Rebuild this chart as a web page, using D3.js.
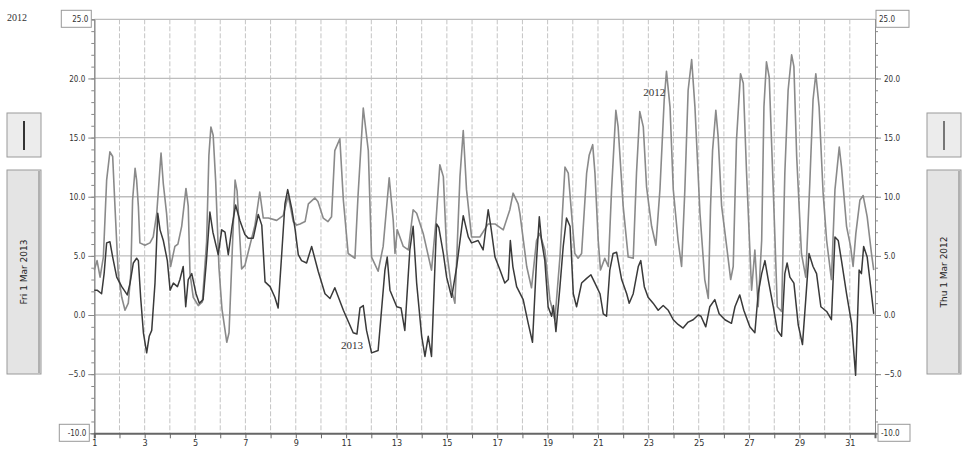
<!DOCTYPE html>
<html>
<head>
<meta charset="utf-8">
<script src="https://cdn.jsdelivr.net/npm/d3@7"></script>
<style>
  body { margin: 0; background: #fff; }
  svg { display: block; }
  .tick text { font-family: "DejaVu Sans Condensed", "Liberation Sans Narrow", sans-serif; fill: #333; }
</style>
</head>
<body>
<div id="chart"></div>
<script>
// March temperatures, day of month (fractional) and value
var days2012 = [1.00,1.11,1.23,1.36,1.49,1.62,1.73,1.82,1.95,2.09,2.22,2.35,2.45,2.52,2.62,2.68,2.75,2.81,3.01,3.21,3.34,3.48,3.65,3.74,3.87,4.03,4.20,4.32,4.47,4.64,4.73,4.80,4.93,5.13,5.29,5.46,5.55,5.63,5.72,5.82,5.95,6.07,6.26,6.35,6.47,6.59,6.67,6.85,6.98,7.18,7.38,7.57,7.71,7.91,8.24,8.50,8.70,8.90,9.04,9.17,9.37,9.50,9.76,9.88,10.09,10.28,10.42,10.55,10.75,10.89,11.08,11.35,11.47,11.68,11.88,12.01,12.27,12.47,12.71,12.87,12.94,13.03,13.27,13.47,13.66,13.80,14.06,14.39,14.57,14.72,14.86,14.99,15.19,15.32,15.52,15.65,15.78,15.98,16.31,16.64,16.91,17.24,17.50,17.63,17.83,17.90,18.17,18.36,18.56,18.69,18.89,19.09,19.29,19.49,19.69,19.82,19.95,20.08,20.21,20.35,20.55,20.65,20.79,20.88,21.01,21.10,21.27,21.41,21.54,21.71,21.80,22.00,22.20,22.40,22.53,22.66,22.80,22.93,23.13,23.30,23.46,23.63,23.72,23.86,23.99,24.18,24.32,24.45,24.58,24.72,24.85,25.05,25.24,25.38,25.47,25.55,25.68,25.77,25.91,26.11,26.27,26.37,26.50,26.66,26.77,26.90,27.10,27.23,27.36,27.50,27.59,27.69,27.80,27.96,28.12,28.29,28.42,28.55,28.69,28.78,28.89,29.08,29.25,29.41,29.54,29.65,29.78,29.94,30.08,30.27,30.41,30.58,30.67,30.87,31.03,31.13,31.24,31.40,31.53,31.69,31.86,31.95];
var temps2012 = [3.8,4.6,3.2,4.9,11.4,13.8,13.4,9.2,3.5,1.5,0.4,1.0,3.5,9.7,12.4,11.4,9.2,6.1,5.9,6.1,6.6,8.6,13.7,11.1,8.6,4.1,5.8,6.0,7.5,10.7,9.2,3.5,1.5,0.8,1.1,6.2,13.5,15.9,15.2,11.3,4.0,0.5,-2.3,-1.5,5.0,11.4,10.5,3.9,4.2,5.9,7.6,10.4,8.2,8.2,8.0,8.4,10.1,7.9,7.6,7.7,7.9,9.4,9.9,9.6,8.2,7.9,8.3,13.9,14.9,9.7,5.2,4.8,10.0,17.5,13.9,4.9,3.7,5.8,11.6,8.0,5.2,7.2,5.8,5.5,8.9,8.6,6.9,3.8,8.0,12.7,11.7,5.5,2.1,1.0,11.7,15.6,10.6,6.6,6.6,7.7,7.7,7.2,8.9,10.3,9.4,8.6,4.1,2.3,6.3,6.9,5.5,1.3,-0.4,4.9,12.5,12.0,8.6,5.2,4.8,5.2,12.0,13.5,14.4,12.0,6.3,3.8,4.8,4.1,10.6,17.3,15.9,9.2,4.9,4.8,12.0,17.2,15.9,10.8,7.5,5.9,10.6,18.2,20.6,17.6,10.6,6.3,4.1,10.6,19.0,21.6,17.6,8.6,3.0,1.4,9.2,13.9,17.3,15.1,9.2,5.8,3.0,4.1,14.8,20.4,19.6,12.0,2.1,5.5,0.7,6.3,17.6,21.4,20.1,10.6,0.7,0.3,12.0,19.0,22.0,21.0,13.4,5.2,3.2,11.1,18.2,20.4,17.6,10.3,6.3,3.0,10.6,14.2,12.5,7.5,5.8,4.1,6.9,9.7,10.1,8.3,5.2,3.8];

var days2013 = [1.00,1.11,1.29,1.39,1.49,1.62,1.73,1.89,2.09,2.31,2.42,2.55,2.68,2.75,2.84,2.95,3.08,3.18,3.28,3.41,3.52,3.61,3.74,3.90,4.01,4.14,4.30,4.40,4.53,4.63,4.73,4.87,5.04,5.17,5.32,5.45,5.59,5.71,5.92,6.06,6.19,6.32,6.47,6.61,6.78,6.98,7.11,7.31,7.51,7.65,7.78,7.98,8.17,8.30,8.44,8.57,8.68,8.84,8.97,9.10,9.23,9.43,9.63,9.89,10.16,10.36,10.55,10.89,11.28,11.43,11.55,11.68,11.81,12.01,12.27,12.54,12.63,12.74,13.01,13.18,13.33,13.47,13.53,13.66,13.80,14.00,14.13,14.26,14.39,14.59,14.68,14.86,14.99,15.19,15.39,15.65,15.85,15.98,16.24,16.44,16.64,16.75,16.91,17.11,17.30,17.44,17.52,17.62,17.77,18.03,18.23,18.40,18.56,18.67,18.76,18.89,19.02,19.16,19.23,19.33,19.49,19.62,19.75,19.89,20.02,20.15,20.35,20.55,20.72,20.88,21.08,21.21,21.34,21.47,21.60,21.74,21.94,22.14,22.24,22.40,22.60,22.70,22.84,22.99,23.19,23.39,23.59,23.79,23.99,24.18,24.38,24.58,24.78,24.98,25.09,25.28,25.44,25.64,25.81,26.04,26.30,26.44,26.63,26.79,27.03,27.23,27.36,27.50,27.63,27.76,27.96,28.12,28.29,28.42,28.51,28.62,28.78,28.95,29.12,29.25,29.38,29.54,29.68,29.85,30.08,30.27,30.41,30.54,30.67,30.87,31.07,31.23,31.37,31.46,31.55,31.69,31.86,31.95];
var temps2013 = [2.1,2.1,1.8,3.5,6.1,6.2,4.9,3.2,2.4,1.7,2.7,4.4,4.8,4.6,1.5,-1.5,-3.2,-1.8,-1.3,2.7,8.6,7.2,6.3,4.6,2.1,2.7,2.4,3.0,4.1,0.7,3.0,3.5,1.8,1.0,1.3,4.5,8.7,7.0,5.1,7.2,7.0,5.1,7.5,9.3,8.0,6.8,6.5,6.5,8.5,7.6,2.8,2.4,1.5,0.6,5.1,9.4,10.6,9.0,7.3,5.1,4.6,4.4,5.8,3.7,1.8,1.4,2.3,0.4,-1.5,-1.6,0.6,0.8,-1.3,-3.2,-3.0,3.8,4.9,2.1,0.7,0.6,-1.3,3.5,5.5,7.5,2.7,-1.8,-3.5,-1.8,-3.5,7.7,7.4,5.2,3.2,1.5,4.1,8.4,6.6,6.1,6.3,5.5,8.9,7.4,4.9,3.8,2.7,3.0,6.3,4.1,2.4,1.3,-0.7,-2.3,4.6,8.3,6.3,4.6,0.7,-0.1,0.8,-1.4,2.4,5.8,8.2,7.5,1.8,0.7,2.7,3.1,3.4,2.7,1.8,0.1,-0.1,3.8,5.2,5.3,3.0,1.8,1.0,1.8,4.1,4.6,2.4,1.5,1.0,0.4,0.8,0.4,-0.4,-0.8,-1.1,-0.6,-0.4,0.0,-0.1,-1.0,0.7,1.3,0.1,-0.4,-0.7,0.7,1.7,0.4,-1.0,-1.5,1.8,3.5,4.6,3.0,0.7,-1.3,-1.8,3.5,4.4,3.2,2.7,-0.8,-2.5,1.3,5.2,4.1,3.5,0.7,0.3,-0.4,6.6,6.3,4.6,1.8,-0.7,-5.1,3.8,3.5,5.8,4.9,1.8,0.1];

var yMajor = [-5, 0, 5, 10, 15, 20];
var xTicks = d3.range(1, 32);
var leftDate = "Fri 1 Mar 2013";
var rightDate = "Thu 1 Mar 2012";

var width = 964, height = 452;
var svg = d3.select("#chart").append("svg")
    .attr("width", width)
    .attr("height", height);

var x = d3.scaleLinear().domain([1, 32]).range([94.3, 875]);
var y = d3.scaleLinear().domain([-10, 25]).range([433.3, 19.3]);

// vertical day grid
svg.append("g").selectAll("line")
    .data(d3.range(2, 32))
    .enter().append("line")
    .attr("x1", function(d) { return x(d); })
    .attr("x2", function(d) { return x(d); })
    .attr("y1", y(25))
    .attr("y2", y(-10))
    .style("stroke", "#c4c4c4")
    .style("stroke-width", 1)
    .style("stroke-dasharray", "5,2");

// horizontal grid every 5
svg.append("g").selectAll("line")
    .data(d3.range(-5, 26, 5))
    .enter().append("line")
    .attr("x1", x(1))
    .attr("x2", x(32))
    .attr("y1", function(d) { return y(d); })
    .attr("y2", function(d) { return y(d); })
    .style("stroke", "#bdbdbd")
    .style("stroke-width", 1.3);

// left axis
var left = svg.append("g").attr("transform", "translate(" + x(1) + ",0)");
left.call(d3.axisLeft(y).tickValues(d3.range(-10, 26, 1)).tickSize(3).tickFormat(""));
left.append("g").call(d3.axisLeft(y).tickValues(yMajor).tickSize(6).tickFormat(d3.format(".1f")));
left.selectAll(".domain").style("stroke", "#888");
left.selectAll(".tick line").style("stroke", "#888");
left.selectAll(".tick text").style("font-size", "8px");

// right axis
var right = svg.append("g").attr("transform", "translate(" + x(32) + ",0)");
right.call(d3.axisRight(y).tickValues(d3.range(-10, 26, 1)).tickSize(3).tickFormat(""));
right.append("g").call(d3.axisRight(y).tickValues(yMajor).tickSize(6).tickFormat(d3.format(".1f")));
right.selectAll(".domain").style("stroke", "#888");
right.selectAll(".tick line").style("stroke", "#888");
right.selectAll(".tick text").style("font-size", "8px");

// boxed end labels
function boxLabel(cx, cy, w, txt, anchorRight) {
    var g = svg.append("g");
    g.append("rect")
        .attr("x", anchorRight ? cx - w : cx)
        .attr("y", cy - 9)
        .attr("width", w)
        .attr("height", 17)
        .style("fill", "#fff")
        .style("stroke", "#999");
    g.append("text")
        .attr("x", anchorRight ? cx - 3 : cx + 3)
        .attr("y", cy + 3)
        .attr("text-anchor", anchorRight ? "end" : "start")
        .style("font-family", "DejaVu Sans Condensed, sans-serif")
        .style("font-size", "8px")
        .style("fill", "#333")
        .text(txt);
}
boxLabel(x(1) - 3, y(25), 30, "25.0", true);
boxLabel(x(1) - 5, y(-10), 30, "-10.0", true);
boxLabel(x(32) + 1, y(25), 33, "25.0", false);
boxLabel(x(32) + 3, y(-10), 32, "-10.0", false);

// bottom axis
var bottom = svg.append("g").attr("transform", "translate(0," + y(-10) + ")");
bottom.call(d3.axisBottom(x).tickValues(xTicks).tickSize(5)
    .tickFormat(function(d) { return d % 2 === 1 ? d : ""; }));
bottom.select(".domain").style("stroke", "#666").style("stroke-width", 2);
bottom.selectAll(".tick line").style("stroke", "#666");
bottom.selectAll(".tick text").style("font-size", "9px").attr("dy", "0.55em");

// series
var line = d3.line()
    .x(function(d) { return x(d[0]); })
    .y(function(d) { return y(d[1]); });

svg.append("path")
    .datum(d3.zip(days2012, temps2012))
    .attr("d", line)
    .style("fill", "none")
    .style("stroke", "#8a8a8a")
    .style("stroke-width", 1.6)
    .style("stroke-linejoin", "round");

svg.append("path")
    .datum(d3.zip(days2013, temps2013))
    .attr("d", line)
    .style("fill", "none")
    .style("stroke", "#3a3a3a")
    .style("stroke-width", 1.5)
    .style("stroke-linejoin", "round");

// series labels
svg.append("text")
    .attr("x", x(22.8)).attr("y", y(18.5))
    .style("font-family", "Liberation Serif, serif")
    .style("font-size", "11px").style("fill", "#333")
    .text("2012");
svg.append("text")
    .attr("x", x(10.8)).attr("y", y(-2.9))
    .style("font-family", "Liberation Serif, serif")
    .style("font-size", "11px").style("fill", "#333")
    .text("2013");
svg.append("text")
    .attr("x", 7).attr("y", 21)
    .style("font-family", "Liberation Serif, serif")
    .style("font-size", "10px").style("fill", "#333")
    .text("2012");

// side buttons
function sidePanel(px, colour, label) {
    var g = svg.append("g");
    g.append("rect")
        .attr("x", px).attr("y", 113).attr("width", 34).attr("height", 44)
        .style("fill", "#ececec").style("stroke", "#9a9a9a");
    g.append("line")
        .attr("x1", px + 17).attr("x2", px + 17).attr("y1", 121).attr("y2", 150)
        .style("stroke", colour).style("stroke-width", 2);
    g.append("rect")
        .attr("x", px).attr("y", 170).attr("width", 34).attr("height", 204)
        .style("fill", "#e4e4e4").style("stroke", "#9a9a9a");
    g.append("line")
        .attr("x1", px + 32).attr("x2", px + 32).attr("y1", 171).attr("y2", 373)
        .style("stroke", "#b0b0b0").style("stroke-width", 2);
    g.append("text")
        .attr("transform", "translate(" + (px + 20) + ",272) rotate(-90)")
        .attr("text-anchor", "middle")
        .style("font-family", "DejaVu Sans, sans-serif")
        .style("font-size", "9px").style("fill", "#222")
        .text(label);
}
sidePanel(7, "#333", leftDate);
sidePanel(927, "#777", rightDate);
</script>
</body>
</html>
